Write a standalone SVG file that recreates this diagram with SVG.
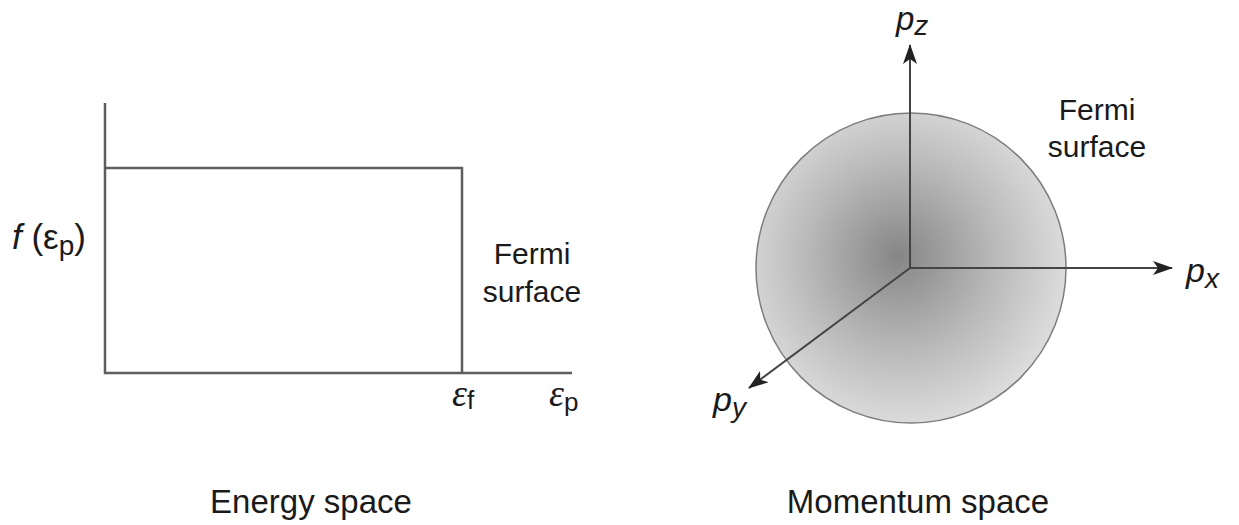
<svg xmlns="http://www.w3.org/2000/svg" width="1239" height="525" viewBox="0 0 1239 525">
<style>
.ax{stroke:#5e5e5e;stroke-width:2.5;fill:none}
.arr{stroke:#444;stroke-width:2;fill:none}
.t{font-family:"Liberation Sans",Arial,sans-serif;fill:#1a1a1a}
.it{font-family:"Liberation Sans",Arial,sans-serif;font-style:italic;fill:#1a1a1a}
.eps{font-family:"Liberation Serif","Times New Roman",serif;font-style:italic;fill:#1a1a1a}
</style>
<defs>
<radialGradient id="g" cx="0.47" cy="0.47" r="0.55" fx="0.46" fy="0.46">
<stop offset="0" stop-color="#868686"/>
<stop offset="0.55" stop-color="#b9b9b9"/>
<stop offset="1" stop-color="#dedede"/>
</radialGradient>
<marker id="ah" viewBox="0 0 20 14" refX="19" refY="7" markerWidth="20" markerHeight="14" markerUnits="userSpaceOnUse" orient="auto">
<path d="M0,0 L20,7 L0,14 L5,7 Z" fill="#222"/>
</marker>
</defs>
<g id="energy-plot">
<polyline class="ax" points="105,103 105,373 572,373"/>
<polyline class="ax" points="105,168 462,168 462,373"/>
</g>
<g id="energy-labels">
<text class="t" x="12" y="249" font-size="35"><tspan class="it">f</tspan> (ε<tspan font-size="28" dy="6">p</tspan><tspan dy="-6">)</tspan></text>
<text class="t" x="532" y="264" font-size="30" text-anchor="middle">Fermi</text>
<text class="t" x="532" y="302" font-size="30" text-anchor="middle">surface</text>
<text class="eps" x="452" y="406" font-size="38">ε<tspan class="t" font-style="normal" font-size="26" dy="3">f</tspan></text>
<text class="eps" x="549" y="406" font-size="38">ε<tspan class="t" font-style="normal" font-size="26" dy="5">p</tspan></text>
<text class="t" x="311" y="513" font-size="33" text-anchor="middle">Energy space</text>
</g>
<g id="sphere">
<circle cx="911" cy="268" r="155" fill="url(#g)" stroke="#7d7d7d" stroke-width="1.5"/>
</g>
<g id="connectors">
<line class="arr" x1="910" y1="268" x2="910" y2="45" marker-end="url(#ah)"/>
<line class="arr" x1="910" y1="268" x2="1172" y2="268" marker-end="url(#ah)"/>
<line class="arr" x1="910" y1="268" x2="749" y2="388" marker-end="url(#ah)"/>
</g>
<g id="momentum-labels">
<text class="it" x="896" y="30" font-size="33">p<tspan font-size="28" dy="5">z</tspan></text>
<text class="it" x="1186" y="282" font-size="34">p<tspan font-size="28" dy="6">x</tspan></text>
<text class="it" x="713" y="411" font-size="34">p<tspan font-size="28" dy="6">y</tspan></text>
<text class="t" x="1097" y="120" font-size="30" text-anchor="middle">Fermi</text>
<text class="t" x="1097" y="157" font-size="30" text-anchor="middle">surface</text>
<text class="t" x="918" y="513" font-size="33" text-anchor="middle">Momentum space</text>
</g>
</svg>
